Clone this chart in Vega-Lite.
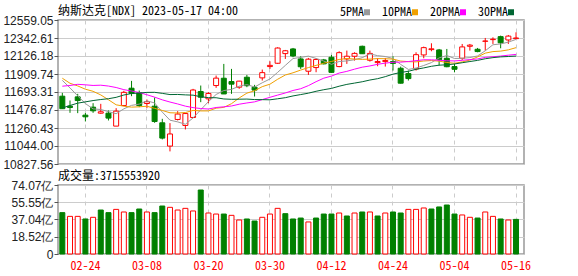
{
  "$schema": "https://vega.github.io/schema/vega-lite/v6.json",
  "background": "white",
  "padding": {"left": 2, "top": 4, "right": 5, "bottom": 2},
  "spacing": -2,
  "config": {
    "view": {"stroke": "#999999", "strokeWidth": 1.5},
    "axis": {"labelOverlap": false},
    "axisY": {"labelOverlap": false},
    "title": {"font": "Noto Sans Mono CJK SC, Liberation Mono, monospace", "fontSize": 12, "fontWeight": "normal", "color": "#000000", "anchor": "start", "frame": "group"}
  },
  "datasets": {
    "k": [
      {"d":"02-21","o":11643,"h":11683,"l":11491,"c":11492.30,"v":44.4,"5PMA":11833.23,"10PMA":11858.99,"20PMA":11763.08,"30PMA":11502.03},
      {"d":"02-22","o":11523,"h":11591,"l":11443,"c":11507.07,"v":40.4,"5PMA":11742.61,"10PMA":11798.32,"20PMA":11771.72,"30PMA":11531.08},
      {"d":"02-23","o":11635,"h":11671,"l":11439,"c":11590.40,"v":40.4,"5PMA":11646.57,"10PMA":11766.31,"20PMA":11785.57,"30PMA":11559.34},
      {"d":"02-24","o":11415,"h":11443,"l":11339,"c":11394.94,"v":37.6,"5PMA":11554.40,"10PMA":11726.85,"20PMA":11779.70,"30PMA":11574.78},
      {"d":"02-27","o":11511,"h":11559,"l":11443,"c":11466.98,"v":39.4,"5PMA":11490.34,"10PMA":11701.73,"20PMA":11771.96,"30PMA":11590.31},
      {"d":"02-28","o":11439,"h":11551,"l":11431,"c":11455.54,"v":47.2,"5PMA":11482.99,"10PMA":11658.11,"20PMA":11775.05,"30PMA":11602.86},
      {"d":"03-01","o":11439,"h":11471,"l":11351,"c":11379.48,"v":44.4,"5PMA":11457.47,"10PMA":11600.04,"20PMA":11764.80,"30PMA":11612.34},
      {"d":"03-02","o":11283,"h":11499,"l":11283,"c":11462.98,"v":47.9,"5PMA":11431.98,"10PMA":11539.28,"20PMA":11747.13,"30PMA":11629.20},
      {"d":"03-03","o":11531,"h":11707,"l":11523,"c":11689.01,"v":45.1,"5PMA":11490.80,"10PMA":11522.60,"20PMA":11721.54,"30PMA":11657.09},
      {"d":"03-06","o":11739,"h":11827,"l":11643,"c":11675.74,"v":44.4,"5PMA":11532.55,"10PMA":11511.44,"20PMA":11704.98,"30PMA":11674.94},
      {"d":"03-07","o":11683,"h":11711,"l":11511,"c":11530.33,"v":48.3,"5PMA":11547.51,"10PMA":11515.25,"20PMA":11687.12,"30PMA":11680.47},
      {"d":"03-08","o":11555,"h":11603,"l":11499,"c":11576.00,"v":45.1,"5PMA":11586.81,"10PMA":11522.14,"20PMA":11660.23,"30PMA":11688.53},
      {"d":"03-09","o":11523,"h":11627,"l":11323,"c":11338.36,"v":44.4,"5PMA":11561.89,"10PMA":11496.94,"20PMA":11631.62,"30PMA":11689.36},
      {"d":"03-10","o":11323,"h":11371,"l":11123,"c":11138.89,"v":51.5,"5PMA":11451.86,"10PMA":11471.33,"20PMA":11599.09,"30PMA":11676.91},
      {"d":"03-13","o":11043,"h":11319,"l":10979,"c":11188.84,"v":50.1,"5PMA":11354.48,"10PMA":11443.52,"20PMA":11572.62,"30PMA":11662.48},
      {"d":"03-14","o":11363,"h":11463,"l":11351,"c":11428.15,"v":47.2,"5PMA":11334.05,"10PMA":11440.78,"20PMA":11549.44,"30PMA":11663.63},
      {"d":"03-15","o":11291,"h":11439,"l":11243,"c":11434.05,"v":49.0,"5PMA":11305.66,"10PMA":11446.24,"20PMA":11523.14,"30PMA":11658.61},
      {"d":"03-16","o":11387,"h":11731,"l":11379,"c":11717.28,"v":46.2,"5PMA":11381.44,"10PMA":11471.67,"20PMA":11505.47,"30PMA":11655.31},
      {"d":"03-17","o":11699,"h":11771,"l":11571,"c":11630.51,"v":68.7,"5PMA":11479.77,"10PMA":11465.82,"20PMA":11494.21,"30PMA":11636.30},
      {"d":"03-20","o":11611,"h":11691,"l":11559,"c":11675.54,"v":44.0,"5PMA":11577.11,"10PMA":11465.80,"20PMA":11488.62,"30PMA":11625.25},
      {"d":"03-21","o":11771,"h":11891,"l":11743,"c":11860.11,"v":42.9,"5PMA":11663.50,"10PMA":11498.77,"20PMA":11507.01,"30PMA":11624.34},
      {"d":"03-22","o":11859,"h":12031,"l":11669,"c":11669.96,"v":42.9,"5PMA":11710.68,"10PMA":11508.17,"20PMA":11515.15,"30PMA":11609.54},
      {"d":"03-23","o":11819,"h":11971,"l":11671,"c":11787.40,"v":41.5,"5PMA":11724.70,"10PMA":11553.07,"20PMA":11525.00,"30PMA":11605.44},
      {"d":"03-24","o":11751,"h":11827,"l":11731,"c":11823.96,"v":36.5,"5PMA":11763.39,"10PMA":11621.58,"20PMA":11546.46,"30PMA":11606.59},
      {"d":"03-27","o":11871,"h":11899,"l":11751,"c":11768.84,"v":37.6,"5PMA":11782.05,"10PMA":11679.58,"20PMA":11561.55,"30PMA":11608.28},
      {"d":"03-28","o":11751,"h":11779,"l":11639,"c":11716.08,"v":35.4,"5PMA":11753.25,"10PMA":11708.37,"20PMA":11574.58,"30PMA":11602.42},
      {"d":"03-29","o":11863,"h":11963,"l":11831,"c":11926.24,"v":39.4,"5PMA":11804.50,"10PMA":11757.59,"20PMA":11601.91,"30PMA":11601.29},
      {"d":"03-30","o":11999,"h":12063,"l":11971,"c":12013.47,"v":42.9,"5PMA":11849.72,"10PMA":11787.21,"20PMA":11629.44,"30PMA":11599.39},
      {"d":"03-31","o":12039,"h":12231,"l":12031,"c":12221.91,"v":49.0,"5PMA":11929.31,"10PMA":11846.35,"20PMA":11656.08,"30PMA":11611.59},
      {"d":"04-03","o":12155,"h":12199,"l":12091,"c":12189.45,"v":43.3,"5PMA":12013.43,"10PMA":11897.74,"20PMA":11681.77,"30PMA":11624.99},
      {"d":"04-04","o":12211,"h":12223,"l":12111,"c":12126.33,"v":37.6,"5PMA":12095.48,"10PMA":11924.36,"20PMA":11711.57,"30PMA":11646.13},
      {"d":"04-05","o":12091,"h":12123,"l":11971,"c":11996.86,"v":38.6,"5PMA":12109.60,"10PMA":11957.05,"20PMA":11732.61,"30PMA":11662.45},
      {"d":"04-06","o":11943,"h":12103,"l":11899,"c":12087.96,"v":34.4,"5PMA":12124.50,"10PMA":11987.11,"20PMA":11770.09,"30PMA":11679.04},
      {"d":"04-10","o":11987,"h":12099,"l":11931,"c":12084.36,"v":38.6,"5PMA":12096.99,"10PMA":12013.15,"20PMA":11817.37,"30PMA":11702.02},
      {"d":"04-11","o":12079,"h":12091,"l":12025,"c":12031.88,"v":42.9,"5PMA":12065.48,"10PMA":12039.45,"20PMA":11859.52,"30PMA":11720.85},
      {"d":"04-12","o":12111,"h":12139,"l":11923,"c":11929.34,"v":42.9,"5PMA":12026.08,"10PMA":12060.78,"20PMA":11884.58,"30PMA":11736.64},
      {"d":"04-13","o":11999,"h":12183,"l":11991,"c":12166.27,"v":44.0,"5PMA":12059.96,"10PMA":12084.78,"20PMA":11921.19,"30PMA":11762.87},
      {"d":"04-14","o":12091,"h":12191,"l":12031,"c":12123.47,"v":40.8,"5PMA":12067.06,"10PMA":12095.78,"20PMA":11941.50,"30PMA":11784.89},
      {"d":"04-17","o":12123,"h":12171,"l":12071,"c":12157.72,"v":44.0,"5PMA":12081.74,"10PMA":12089.36,"20PMA":11967.86,"30PMA":11800.51},
      {"d":"04-18","o":12243,"h":12251,"l":12151,"c":12153.41,"v":45.1,"5PMA":12106.04,"10PMA":12085.76,"20PMA":11991.75,"30PMA":11816.43},
      {"d":"04-19","o":12075,"h":12191,"l":12059,"c":12157.23,"v":45.1,"5PMA":12151.62,"10PMA":12088.85,"20PMA":12006.61,"30PMA":11837.33},
      {"d":"04-20","o":12047,"h":12099,"l":12003,"c":12059.56,"v":40.8,"5PMA":12130.28,"10PMA":12095.12,"20PMA":12026.09,"30PMA":11853.45},
      {"d":"04-21","o":12059,"h":12103,"l":11999,"c":12072.46,"v":44.0,"5PMA":12120.08,"10PMA":12093.57,"20PMA":12040.34,"30PMA":11877.92},
      {"d":"04-24","o":12059,"h":12123,"l":11951,"c":12037.20,"v":45.1,"5PMA":12095.97,"10PMA":12088.85,"20PMA":12051.00,"30PMA":11907.86},
      {"d":"04-25","o":11979,"h":11999,"l":11795,"c":11799.16,"v":44.0,"5PMA":12025.12,"10PMA":12065.58,"20PMA":12052.52,"30PMA":11928.21},
      {"d":"04-26","o":11915,"h":11951,"l":11831,"c":11854.35,"v":47.9,"5PMA":11964.55,"10PMA":12058.08,"20PMA":12059.43,"30PMA":11942.41},
      {"d":"04-27","o":11971,"h":12171,"l":11951,"c":12142.24,"v":47.9,"5PMA":11981.08,"10PMA":12055.68,"20PMA":12070.23,"30PMA":11966.02},
      {"d":"04-28","o":12139,"h":12239,"l":12099,"c":12226.58,"v":49.4,"5PMA":12011.91,"10PMA":12065.99,"20PMA":12080.89,"30PMA":11982.99},
      {"d":"05-01","o":12203,"h":12279,"l":12183,"c":12212.60,"v":48.3,"5PMA":12046.99,"10PMA":12071.48,"20PMA":12080.42,"30PMA":12002.40},
      {"d":"05-02","o":12199,"h":12211,"l":12011,"c":12080.51,"v":50.5,"5PMA":12103.26,"10PMA":12064.19,"20PMA":12074.97,"30PMA":12015.90},
      {"d":"05-03","o":12099,"h":12211,"l":11991,"c":11997.16,"v":52.6,"5PMA":12131.82,"10PMA":12048.18,"20PMA":12068.52,"30PMA":12020.47},
      {"d":"05-04","o":11999,"h":12031,"l":11931,"c":11966.40,"v":42.9,"5PMA":12096.65,"10PMA":12038.87,"20PMA":12066.99,"30PMA":12030.35},
      {"d":"05-05","o":12099,"h":12271,"l":12079,"c":12235.41,"v":41.9,"5PMA":12098.42,"10PMA":12055.16,"20PMA":12074.37,"30PMA":12045.28},
      {"d":"05-08","o":12243,"h":12271,"l":12191,"c":12256.92,"v":39.4,"5PMA":12107.28,"10PMA":12077.13,"20PMA":12082.99,"30PMA":12059.71},
      {"d":"05-09","o":12207,"h":12223,"l":12171,"c":12179.55,"v":38.6,"5PMA":12127.09,"10PMA":12115.17,"20PMA":12090.38,"30PMA":12073.40},
      {"d":"05-10","o":12303,"h":12343,"l":12191,"c":12306.44,"v":45.1,"5PMA":12188.94,"10PMA":12160.38,"20PMA":12109.23,"30PMA":12093.08},
      {"d":"05-11","o":12323,"h":12351,"l":12271,"c":12328.51,"v":40.4,"5PMA":12261.37,"10PMA":12179.01,"20PMA":12117.34,"30PMA":12106.49},
      {"d":"05-12","o":12359,"h":12371,"l":12219,"c":12284.74,"v":37.6,"5PMA":12271.23,"10PMA":12184.82,"20PMA":12125.41,"30PMA":12115.53},
      {"d":"05-15","o":12319,"h":12379,"l":12271,"c":12365.21,"v":36.5,"5PMA":12292.89,"10PMA":12200.09,"20PMA":12135.78,"30PMA":12120.31},
      {"d":"05-16","o":12335,"h":12411,"l":12331,"c":12343.05,"v":37.16,"5PMA":12325.59,"10PMA":12226.34,"20PMA":12145.26,"30PMA":12125.43}
    ]
  },
  "resolve": {"scale": {"color": "independent"}, "legend": {"color": "independent"}},
  "vconcat": [
    {
      "width": 466,
      "height": 144,
      "title": {"text": "纳斯达克[NDX] 2023-05-17 04:00", "offset": -12},
      "data": {"name": "k"},
      "encoding": {
        "x": {
          "field": "d", "type": "ordinal",
          "scale": {"paddingInner": 0.35, "paddingOuter": 0.475, "align": 0.25},
          "axis": {"values": ["02-24","03-08","03-20","03-30","04-12","04-24","05-04","05-16"], "labels": false, "ticks": false, "domain": false, "title": null, "grid": true, "gridColor": "#cccccc", "gridDash": [4, 4], "gridWidth": 1, "bandPosition": 0.5}
        }
      },
      "layer": [
        {
          "mark": {"type": "rule", "strokeWidth": 1},
          "encoding": {
            "y": {
              "field": "l", "type": "quantitative",
              "scale": {"domain": [10827.56, 12559.05], "nice": false, "zero": false},
              "axis": {"values": [10827.56, 11044.00, 11260.43, 11476.87, 11693.31, 11909.74, 12126.18, 12342.61, 12559.05], "tickCount": 50, "format": ".2f", "title": null, "domain": false, "tickSize": 4, "tickColor": "#555555", "labelFont": "Liberation Sans", "labelFontSize": 12, "labelColor": "#222222", "labelPadding": 1, "gridColor": "#cccccc", "gridWidth": 1, "labelOverlap": false}
            },
            "y2": {"field": "h"},
            "color": {"condition": {"test": "datum.c >= datum.o", "value": "#ff0000"}, "value": "#008000"}
          }
        },
        {
          "mark": {"type": "bar", "strokeWidth": 1},
          "encoding": {
            "y": {"field": "o", "type": "quantitative"},
            "y2": {"field": "c"},
            "fill": {"condition": {"test": "datum.c >= datum.o", "value": "#ffffff"}, "value": "#008000"},
            "stroke": {"condition": {"test": "datum.c >= datum.o", "value": "#ff0000"}, "value": "#008000"}
          }
        },
        {
          "transform": [{"fold": ["5PMA", "10PMA", "20PMA", "30PMA"], "as": ["ma", "val"]}],
          "mark": {"type": "line", "strokeWidth": 1},
          "encoding": {
            "y": {"field": "val", "type": "quantitative"},
            "color": {
              "field": "ma", "type": "nominal",
              "scale": {"domain": ["5PMA", "10PMA", "20PMA", "30PMA"], "range": ["#999999", "#f0a000", "#ff00ff", "#006633"]},
              "legend": {"orient": "none", "legendX": 303, "legendY": -14, "direction": "horizontal", "title": null, "symbolType": "square", "symbolSize": 9, "symbolStrokeWidth": 3, "labelFont": "Noto Sans Mono CJK SC, Liberation Mono, monospace", "labelFontSize": 12, "labelColor": "#000000", "labelAlign": "right", "labelOffset": -9, "columnPadding": 6}
            }
          }
        }
      ]
    },
    {
      "width": 466,
      "height": 69,
      "title": {"text": "成交量:3715553920", "offset": -4},
      "data": {"name": "k"},
      "transform": [{"window": [{"op": "lag", "field": "c", "as": "pc"}], "sort": [{"field": "d"}]}],
      "mark": {"type": "bar", "strokeWidth": 1},
      "encoding": {
        "x": {
          "field": "d", "type": "ordinal",
          "scale": {"paddingInner": 0.35, "paddingOuter": 0.475, "align": 0.25},
          "axis": {"values": ["02-24","03-08","03-20","03-30","04-12","04-24","05-04","05-16"], "labelAngle": 0, "labelColor": "#ff0000", "labelFont": "Noto Sans Mono CJK SC, Liberation Mono, monospace", "labelFontSize": 12, "labelPadding": 6, "ticks": false, "domain": false, "title": null, "grid": true, "gridColor": "#cccccc", "gridDash": [4, 4], "gridWidth": 1, "bandPosition": 0.5}
        },
        "y": {
          "field": "v", "type": "quantitative",
          "scale": {"domain": [0, 74.07], "nice": false},
          "axis": {"values": [0, 18.52, 37.04, 55.55, 74.07], "tickCount": 50, "labelExpr": "datum.value == 0 ? '0' : format(datum.value, '.2f') + '亿'", "title": null, "domain": false, "tickSize": 4, "tickColor": "#555555", "labelFont": "Liberation Sans", "labelFontSize": 12, "labelColor": "#222222", "labelPadding": 1, "gridColor": "#cccccc", "gridWidth": 1, "labelOverlap": false}
        },
        "fill": {"condition": {"test": "datum.pc != null && datum.c >= datum.pc", "value": "#ffffff"}, "value": "#008000"},
        "stroke": {"condition": {"test": "datum.pc != null && datum.c >= datum.pc", "value": "#ff0000"}, "value": "#008000"}
      }
    }
  ]
}
